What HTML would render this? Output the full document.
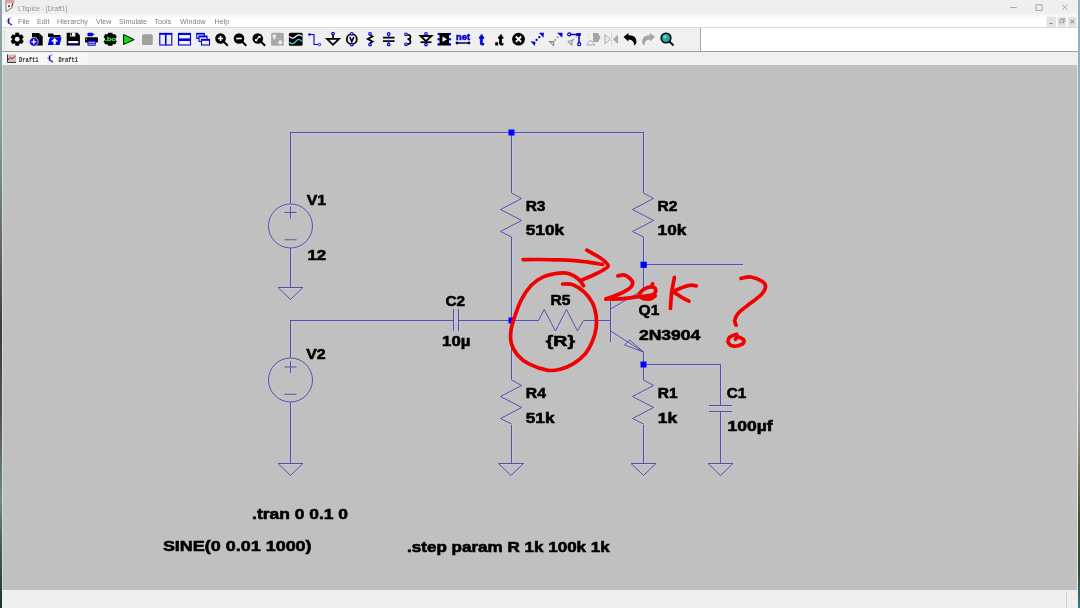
<!DOCTYPE html>
<html><head><meta charset="utf-8">
<style>
html,body{margin:0;padding:0;width:1080px;height:608px;overflow:hidden;background:#c0c0c0;}
body{position:relative;font-family:"Liberation Sans",sans-serif;}
.abs{position:absolute;}
#title{left:0;top:0;width:1080px;height:14px;background:#efefef;}
#menu{left:0;top:14px;width:1080px;height:14px;background:linear-gradient(#f3f3f3 0,#ffffff 4px,#ffffff 100%);}
#tb{left:0;top:27px;width:1080px;height:25px;background:#ffffff;border-top:1px solid #dadada;box-sizing:border-box;}
#tbgray{left:2px;top:28px;width:698px;height:23px;background:#f0f0f0;}
#tbsep{left:700px;top:28px;width:1px;height:23px;background:#a8a8a8;}
#tbbot{left:0;top:51px;width:1080px;height:1px;background:#9c9c9c;}
#tbbot2{left:0;top:52px;width:1080px;height:1px;background:#d0d0d0;}
#tabs{left:0;top:52px;width:1080px;height:13px;background:#f0f0f0;}
#canvas{left:0;top:65px;width:1080px;height:525px;background:#c0c0c0;}
#status{left:0;top:590px;width:1080px;height:18px;background:#efefef;}
#lb{left:0;top:0;width:2px;height:608px;background:linear-gradient(#8aa4a8 0,#86a2a4 120px,#5a6060 260px,#3a3c3c 330px,#505656 420px,#6e8a84 500px,#4a5e5a 540px,#1e3232 608px);}
#lb2{left:2px;top:65px;width:1px;height:525px;background:#d6d8d8;}
#rb{left:1078px;top:0;width:2px;height:608px;background:linear-gradient(#90b4bc 0,#88aeb6 300px,#a0a8a8 370px,#9a9a9a 420px,#7a7058 470px,#3e5030 520px,#2e4a2e 570px,#3a7a80 608px);}
#rb2{left:1077px;top:65px;width:1px;height:525px;background:#e4e6e6;}
.menut{font-size:7px;color:#7a7a7a;top:17px;}
svg{position:absolute;left:0;top:0;will-change:transform;}
</style></head>
<body>
<div id="title" class="abs"></div>
<div id="menu" class="abs"></div>
<div id="tb" class="abs"></div>
<div id="tbgray" class="abs"></div>
<div id="tbsep" class="abs"></div>
<div id="tbbot" class="abs"></div><div id="tbbot2" class="abs"></div>
<div id="tabs" class="abs"></div>
<div id="canvas" class="abs"></div>
<div id="status" class="abs"></div>
<div class="abs" style="left:1066px;top:592px;width:1px;height:16px;background:#d4d4d4"></div>

<svg width="1080" height="608" viewBox="0 0 1080 608">
<!-- title bar -->
<text x="18" y="10.5" font-family="Liberation Sans" font-size="6.6" fill="#969696">LTspice - [Draft1]</text>
<g>
  <path d="M6,0 L14.5,0 L14.3,4 L12.8,7.2 L6,11.6 Z" fill="#fafafa"/>
  <rect x="7" y="0" width="7.5" height="3.4" fill="#d9a3a3"/>
  <path d="M6,0 L6,11.6 L12.8,7" fill="none" stroke="#707070" stroke-width="1"/>
  <path d="M8,6.3 L10,6.3 M9,5 L9,7.3" stroke="#8a1515" stroke-width="1.1"/>
  <path d="M12.9,3.5 L11.8,6.6" stroke="#6a1020" stroke-width="1.1"/>
</g>
<line x1="1010" y1="7.5" x2="1016.8" y2="7.5" stroke="#8a8a8a" stroke-width="0.7"/>
<rect x="1036" y="4.8" width="6" height="5.6" fill="none" stroke="#8a8a8a" stroke-width="0.7"/>
<path d="M1062,4.6 L1067.5,10 M1067.5,4.6 L1062,10" stroke="#8a8a8a" stroke-width="0.7"/>
<!-- MDI buttons -->
<rect x="1046.5" y="16.8" width="9.5" height="10" fill="#e2e2e2"/>
<rect x="1057.5" y="16.8" width="9" height="10" fill="#e2e2e2"/>
<rect x="1068" y="16.8" width="8.5" height="10" fill="#e2e2e2"/>
<line x1="1049.5" y1="23.5" x2="1052.5" y2="23.5" stroke="#777" stroke-width="0.9"/>
<rect x="1060" y="19.8" width="3.5" height="3" fill="none" stroke="#888" stroke-width="0.7"/>
<path d="M1061.2,19.8 L1061.2,18.8 L1064.8,18.8 L1064.8,21.8 L1063.5,21.8" fill="none" stroke="#888" stroke-width="0.6"/>
<path d="M1070.5,19.8 L1074,23.3 M1074,19.8 L1070.5,23.3" stroke="#777" stroke-width="1"/>

<!-- menu -->
<path d="M8.6,18.4 L8.6,23.7" stroke="#1010b0" stroke-width="1.5"/>
<path d="M6.3,21.2 L8,21.2" stroke="#7070e0" stroke-width="1"/>
<path d="M9,19 L11.6,17.4" stroke="#8080d8" stroke-width="1"/>
<path d="M9.3,23.2 L12,25.2" stroke="#2020c0" stroke-width="1.4"/>
<g font-family="Liberation Sans" font-size="7.2" fill="#7d7d7d">
<text x="18" y="24">File</text>
<text x="37" y="24">Edit</text>
<text x="57" y="24">Hierarchy</text>
<text x="96" y="24">View</text>
<text x="119" y="24">Simulate</text>
<text x="154.5" y="24">Tools</text>
<text x="180" y="24">Window</text>
<text x="214.5" y="24">Help</text>
</g>

<!-- toolbar grip -->
<line x1="4.5" y1="31" x2="4.5" y2="49" stroke="#b8b8b8" stroke-width="0.8" stroke-dasharray="1,1.5"/>

<!-- toolbar icons -->
<g id="icons">
<!-- gear -->
<g transform="translate(17.2,39.2)">
  <path d="M-1.57,-6.31 L1.57,-6.31 L1.84,-4.54 L3.02,-3.86 L4.68,-4.52 L6.25,-1.79 L4.85,-0.68 L4.85,0.68 L6.25,1.79 L4.68,4.52 L3.02,3.86 L1.84,4.54 L1.57,6.31 L-1.57,6.31 L-1.84,4.54 L-3.02,3.86 L-4.68,4.52 L-6.25,1.79 L-4.85,0.68 L-4.85,-0.68 L-6.25,-1.79 L-4.68,-4.52 L-3.02,-3.86 L-1.84,-4.54 Z" fill="#000" stroke="#000" stroke-width="0.6" stroke-linejoin="round"/>
  <circle r="2.4" fill="#f0f0f0"/>
</g>
<!-- new doc -->
<path d="M32,33 L39,33 L42.7,36.5 L42.7,45.6 L32,45.6 Z" fill="#000"/>
<path d="M39.2,33 L39.2,36.3 L42.7,36.3" fill="none" stroke="#505050" stroke-width="0.5"/>
<circle cx="33.8" cy="41.8" r="4.4" fill="#0000e0" stroke="#f0f0f0" stroke-width="0.8"/>
<path d="M31.3,41.8 L36.3,41.8 M33.8,39.3 L33.8,44.3" stroke="#fff" stroke-width="1.3"/>
<!-- open folder -->
<path d="M48,33.5 L53,33.5 L54,35 L60.5,35 L60.5,37 L48,37 Z" fill="#000"/>
<path d="M49.8,37.2 L61.6,37.2 L59.6,45 L47.8,45 Z" fill="#0000e8"/>
<path d="M54.6,38 L51,41.6 L53.5,41.6 L53.5,44.6 L55.7,44.6 L55.7,41.6 L58.2,41.6 Z" fill="#fff"/>
<!-- save -->
<path d="M66.7,32.8 L77.5,32.8 L79.9,35.2 L79.9,45.6 L66.7,45.6 Z" fill="#000"/>
<rect x="70" y="32.6" width="5.3" height="3.9" fill="#f4f4f4"/><rect x="70.6" y="33" width="1.3" height="2.6" fill="#000"/>
<rect x="68.3" y="41" width="10" height="2.4" fill="#fff"/>
<rect x="68.3" y="43.4" width="10" height="1" fill="#0000e0"/>
<!-- printer -->
<rect x="87.5" y="32.7" width="5.6" height="3.6" rx="0.8" fill="#0000e8"/>
<path d="M93.3,33.3 L95,34.8 L93.3,34.8 Z" fill="#000040"/>
<rect x="85" y="37.2" width="13" height="5.4" rx="1" fill="#000"/>
<rect x="86.1" y="38.5" width="0.8" height="1.2" fill="#fff"/>
<rect x="87.5" y="40.2" width="8.2" height="5.5" fill="#0000d0"/>
<path d="M88.3,42.3 L95,42.3 M88.3,44.2 L95,44.2" stroke="#fff" stroke-width="0.8"/>
<!-- .bc gear -->
<g transform="translate(110.2,39.2)">
  <path d="M-2,-6.5 L2,-6.5 L2.8,-4.8 L4.8,-5.2 L6.6,-2.2 L5.3,-0.6 L5.3,0.6 L6.6,2.2 L4.8,5.2 L2.8,4.8 L2,6.5 L-2,6.5 L-2.8,4.8 L-4.8,5.2 L-6.6,2.2 L-5.3,0.6 L-5.3,-0.6 L-6.6,-2.2 L-4.8,-5.2 L-2.8,-4.8 Z" fill="#000"/>
  <text x="0" y="1.9" font-family="Liberation Sans" font-weight="bold" font-size="6.2" fill="#22e622" stroke="#22e622" stroke-width="0.3" text-anchor="middle" textLength="11.5" lengthAdjust="spacingAndGlyphs">.bc</text>
</g>
<!-- play -->
<path d="M123.6,34.5 L134.2,39.6 L123.6,44.5 Z" fill="#10dd10" stroke="#000" stroke-width="1"/>
<!-- stop -->
<rect x="142" y="34.2" width="10.8" height="10.7" rx="1.5" fill="#a0a0a0"/>
<!-- tile vertical -->
<g fill="none" stroke="#0000e0" stroke-width="1.1">
<rect x="159.8" y="33.4" width="5.7" height="11.6"/>
<rect x="166" y="33.4" width="5.8" height="11.6"/>
</g>
<rect x="159.5" y="33" width="12.6" height="1.8" fill="#0000e0"/>
<!-- tile horizontal -->
<g fill="none" stroke="#0000e0" stroke-width="1.1">
<rect x="178.5" y="33.4" width="12" height="5.6"/>
<rect x="178.5" y="39.4" width="12" height="5.6"/>
</g>
<rect x="178.2" y="33" width="12.6" height="2" fill="#0000e0"/>
<rect x="178.2" y="39" width="12.6" height="2" fill="#0000e0"/>
<!-- cascade -->
<g fill="#f0f0f0" stroke="#0000e0" stroke-width="1.1">
<rect x="196.8" y="33.4" width="7.5" height="5"/>
<rect x="199" y="36.2" width="8" height="5.2"/>
<rect x="201.5" y="39.4" width="8" height="5.6"/>
</g>
<rect x="196.5" y="33" width="8" height="1.6" fill="#0000e0"/>
<rect x="198.7" y="35.8" width="8.5" height="1.6" fill="#0000e0"/>
<rect x="201.2" y="39" width="8.5" height="1.8" fill="#0000e0"/>
<!-- zoom in -->
<g transform="translate(220.5,38.5)">
<circle r="5.3" fill="#000"/>
<line x1="3" y1="3" x2="7.3" y2="7.3" stroke="#000" stroke-width="2"/>
<path d="M-2.6,0 L2.6,0 M0,-2.6 L0,2.6" stroke="#fff" stroke-width="1.6"/>
</g>
<!-- zoom out -->
<g transform="translate(239,38.5)">
<circle r="5.3" fill="#000"/>
<line x1="3" y1="3" x2="7.3" y2="7.3" stroke="#000" stroke-width="2"/>
<path d="M-2.8,0 L2.8,0" stroke="#fff" stroke-width="1.6"/>
</g>
<!-- zoom fit -->
<g transform="translate(257.8,38.5)">
<circle r="5.3" fill="#000"/>
<line x1="3" y1="3" x2="7.3" y2="7.3" stroke="#000" stroke-width="2"/>
<path d="M-2.2,2.2 L2.2,-2.2" stroke="#fff" stroke-width="1.2"/>
<path d="M2.8,-2.8 L0,-2.6 L2.6,0 Z M-2.8,2.8 L0,2.6 L-2.6,0 Z" fill="#fff"/>
</g>
<!-- pan gray -->
<rect x="271.1" y="32.7" width="12.7" height="13" rx="1.5" fill="#a8a8a8"/>
<path d="M274.3,34.1 L271.9,36.6 L273.3,36.6 L273.3,39.2 L275.3,39.2 L275.3,36.6 L276.9,36.6 Z" fill="#f2f2f2"/>
<path d="M280.2,44.7 L283,42 L281.4,42 L281.4,40.2 L279.2,40.2 L279.2,42 L277.3,42 Z" fill="#f2f2f2"/>
<!-- waveform -->
<rect x="288.9" y="32.7" width="13.7" height="13" rx="1.5" fill="#000"/>
<path d="M289.2,36.3 C290.5,37.8 292,38.6 293.5,38 C295.5,37 297,34.6 299,34.8 C300.5,35 301.5,35.8 302.3,36.3" fill="none" stroke="#fff" stroke-width="1.2"/>
<path d="M289.2,42 C290.5,43.5 292,44 293.5,43.4 C295.5,42.4 297,39.4 298.6,39.3 C300.2,39.3 301.4,40.8 302.3,41.6" fill="none" stroke="#30d8c8" stroke-width="1.2"/>
<!-- wire -->
<path d="M309.5,34.5 L314,34.5 L314,44.5 L318.5,44.5" fill="none" stroke="#0000d8" stroke-width="1.1"/>
<circle cx="309.5" cy="34.5" r="1.3" fill="#0000d8"/>
<circle cx="319.5" cy="44.5" r="1.2" fill="#fff" stroke="#0000d8" stroke-width="0.9"/>
<!-- ground -->
<circle cx="333" cy="33.6" r="1.3" fill="#fff" stroke="#0000d8" stroke-width="1.2"/>
<line x1="333" y1="34.6" x2="333" y2="38.5" stroke="#000" stroke-width="1.6"/>
<path d="M327,38.8 L339,38.8 L333,44.8 Z" fill="none" stroke="#000" stroke-width="1.8"/>
<!-- voltage source -->
<circle cx="351.8" cy="39.2" r="5" fill="none" stroke="#000" stroke-width="1.8"/>
<path d="M349.8,37 L351.8,41.5 L353.8,37" fill="none" stroke="#000" stroke-width="1.6"/>
<circle cx="351.8" cy="33.8" r="1.3" fill="#fff" stroke="#0000d8" stroke-width="1.2"/>
<circle cx="351.8" cy="44.6" r="1.3" fill="#fff" stroke="#0000d8" stroke-width="1.2"/>
<!-- resistor -->
<path d="M370,35 L372.5,36.5 L367.8,39 L372.5,41.5 L370,43" fill="none" stroke="#000" stroke-width="1.8"/>
<circle cx="370" cy="33.8" r="1.3" fill="#fff" stroke="#0000d8" stroke-width="1.2"/>
<circle cx="370" cy="44.6" r="1.3" fill="#fff" stroke="#0000d8" stroke-width="1.2"/>
<!-- capacitor -->
<path d="M383,37.7 L394.5,37.7 M383,41.2 L394.5,41.2" stroke="#000" stroke-width="1.8"/>
<path d="M388.7,34.5 L388.7,37.5 M388.7,41.5 L388.7,44" stroke="#0000d8" stroke-width="0.9"/>
<circle cx="388.7" cy="34" r="1.3" fill="#fff" stroke="#0000d8" stroke-width="1.2"/>
<circle cx="388.7" cy="44.4" r="1.3" fill="#fff" stroke="#0000d8" stroke-width="1.2"/>
<!-- inductor -->
<path d="M406.5,34.5 Q410.5,34.5 410.5,37 Q410.5,39.2 407.5,39.2 Q410.5,39.2 410.5,41.8 Q410.5,44.3 406.5,44.3" fill="none" stroke="#000" stroke-width="1.7"/>
<circle cx="406" cy="34.3" r="1.3" fill="#fff" stroke="#0000d8" stroke-width="1.2"/>
<circle cx="406" cy="44.3" r="1.3" fill="#fff" stroke="#0000d8" stroke-width="1.2"/>
<!-- diode -->
<path d="M420.5,36 L431.5,36 L426,41.2 Z" fill="none" stroke="#000" stroke-width="1.8"/>
<path d="M420.5,42.2 L431.5,42.2" stroke="#000" stroke-width="1.8"/>
<circle cx="426" cy="33.8" r="1.3" fill="#fff" stroke="#0000d8" stroke-width="1.2"/>
<circle cx="426" cy="44.6" r="1.3" fill="#fff" stroke="#0000d8" stroke-width="1.2"/>
<!-- component -->
<rect x="439.5" y="33" width="9.5" height="12.5" fill="#000"/>
<path d="M442.5,36.5 L447,39.2 L442.5,42 Z" fill="#fff"/>
<g fill="#0000d8">
<circle cx="438.8" cy="34" r="1.3"/><circle cx="438.8" cy="39.2" r="1.3"/><circle cx="438.8" cy="44.4" r="1.3"/>
<circle cx="449.8" cy="34" r="1.3"/><circle cx="449.8" cy="39.2" r="1.3"/><circle cx="449.8" cy="44.4" r="1.3"/>
</g>
<!-- net -->
<text x="456" y="40" font-family="Liberation Sans" font-weight="bold" font-size="8.5" fill="#0000d8" stroke="#0000d8" stroke-width="0.5" textLength="14" lengthAdjust="spacingAndGlyphs">net</text>
<path d="M457,43 L469,43" stroke="#000070" stroke-width="1.5"/>
<circle cx="457" cy="43" r="1.4" fill="#000050"/><circle cx="469" cy="43" r="1.4" fill="#000050"/>
<!-- t blue -->
<text x="481.5" y="45" font-family="Liberation Sans" font-weight="bold" font-size="14" fill="#0000e0" stroke="#0000e0" stroke-width="0.9" text-anchor="middle">t</text>
<!-- .t black -->
<text x="499" y="45" font-family="Liberation Sans" font-weight="bold" font-size="14" fill="#000" stroke="#000" stroke-width="0.9" text-anchor="middle">.t</text>
<!-- X circle -->
<circle cx="518.5" cy="39.2" r="6.4" fill="#000"/>
<path d="M515.8,36.5 L521.2,41.9 M521.2,36.5 L515.8,41.9" stroke="#fff" stroke-width="1.8"/>
<!-- move -->
<path d="M538.9,32.8 L543.9,32.8 L543.5,37.8 Z" fill="#0000e0"/>
<path d="M530.3,41.3 L535.4,41.8 L535,45.9 Z" fill="#0000e0"/>
<circle cx="539.3" cy="37.2" r="1.1" fill="#000060"/><circle cx="536.6" cy="39.9" r="1.1" fill="#000060"/>
<!-- drag gray -->
<path d="M557.2,32.8 L562.5,32.8 L562.2,37.8 Z" fill="#0000e0"/>
<path d="M549.5,41.6 L553.8,41.6 L553.6,45.5 Z" fill="none" stroke="#8a8a8a" stroke-width="1.1"/>
<circle cx="557.9" cy="37.2" r="0.9" fill="#8a8a8a"/><circle cx="555.3" cy="39.9" r="0.9" fill="#8a8a8a"/>
<!-- drag wire -->
<path d="M569.2,34.4 L579,34.4 L579,44" fill="none" stroke="#0000c8" stroke-width="1.5"/>
<rect x="576.4" y="33" width="4.4" height="3" fill="#0000c8"/>
<circle cx="569.2" cy="34.4" r="1.5" fill="#fff" stroke="#0000c8" stroke-width="1.3"/>
<circle cx="579.2" cy="44.2" r="1.5" fill="#fff" stroke="#0000c8" stroke-width="1.3"/>
<path d="M568.1,41.4 L572.3,40 L571.8,45 Z" fill="none" stroke="#959595" stroke-width="1.1"/>
<circle cx="573.6" cy="39.6" r="0.8" fill="#959595"/><circle cx="576.2" cy="37" r="0.8" fill="#959595"/>
<!-- rotate gray -->
<path d="M593,33 L598,33 L600.5,37.5 L598,42 L593,42 Z" fill="#a6a6a6"/>
<path d="M586.5,45 L590.5,40 L595,45 Z" fill="none" stroke="#a6a6a6" stroke-width="1"/>
<circle cx="588" cy="37" r="0.6" fill="#a6a6a6"/><circle cx="589" cy="34.5" r="0.6" fill="#a6a6a6"/>
<!-- mirror gray -->
<path d="M605,34.5 L610,39.2 L605,44 Z" fill="none" stroke="#a6a6a6" stroke-width="1"/>
<path d="M618,34.5 L613,39.2 L618,44 Z" fill="#a6a6a6"/>
<line x1="611.5" y1="33" x2="611.5" y2="45.5" stroke="#a6a6a6" stroke-width="0.8" stroke-dasharray="1,1.3"/>
<!-- undo -->
<path d="M623.5,37 L628.5,33 L628.5,35.3 Q636,35 636.5,41.5 Q636.5,44.5 634,45.5 Q634.5,40 628.5,39.5 L628.5,41.5 Z" fill="#000"/>
<!-- redo gray -->
<path d="M655,37 L650,33 L650,35.3 Q642.5,35 642,41.5 Q642,44.5 644.5,45.5 Q644,40 650,39.5 L650,41.5 Z" fill="#a6a6a6"/>
<!-- search -->
<circle cx="666" cy="38" r="4.8" fill="#20a8a8" stroke="#000" stroke-width="1.6"/>
<circle cx="665" cy="36.8" r="1.6" fill="#60e0e0"/>
<line x1="669.5" y1="41.5" x2="673.5" y2="45.5" stroke="#000" stroke-width="1.8"/>
</g>

<!-- tabs -->
<g>
<rect x="3" y="53" width="85" height="11.5" fill="#f7f7f7"/>
<rect x="7" y="54.5" width="9" height="8.5" fill="#c8c0c0"/>
<path d="M7.5,54.5 L7.5,62.5 L16,62.5" fill="none" stroke="#333" stroke-width="1"/>
<path d="M8,60 L10,57.5 L12,59 L15.5,56" fill="none" stroke="#c01818" stroke-width="1"/>
<text x="19" y="62" font-family="Liberation Mono" font-weight="bold" font-size="7" fill="#2a2a2a" textLength="19.5" lengthAdjust="spacingAndGlyphs">Draft1</text>
<path d="M49.6,55.5 L49.6,60.8" stroke="#1010b0" stroke-width="1.5"/>
<path d="M47.3,58.2 L49,58.2" stroke="#5050d8" stroke-width="1"/>
<path d="M50,56 L52.6,54.4" stroke="#7070d8" stroke-width="1"/>
<path d="M50.3,60.3 L53,62.2" stroke="#2020c0" stroke-width="1.4"/>
<text x="58.5" y="62" font-family="Liberation Mono" font-weight="bold" font-size="7" fill="#2a2a2a" textLength="19.5" lengthAdjust="spacingAndGlyphs">Draft1</text>
</g>

<g transform="translate(1,1)">
<!-- halo -->
<g fill="none" stroke="#c2c2ea" stroke-width="1" shape-rendering="crispEdges">
<!-- top wire -->
<path d="M290.5,204 L290.5,132.5 L643.5,132.5 L643.5,193"/>
<path d="M511.5,132.5 L511.5,193"/>
<!-- V1 down to ground -->
<path d="M290.5,248 L290.5,287"/>
<!-- V2 -->
<path d="M290.5,358 L290.5,320.5 L453.5,320.5"/>
<path d="M458.5,320.5 L538.5,320.5"/>
<path d="M290.5,402 L290.5,463"/>
<path d="M583.5,320.5 L610.5,320.5"/>
<!-- R3 bottom/R4 top -->
<path d="M511.5,237 L511.5,380"/>
<path d="M511.5,425 L511.5,463"/>
<!-- R2 down -->
<path d="M643.5,237 L643.5,290"/>
<path d="M643.5,264.5 L742.5,264.5"/>
<!-- emitter down -->
<path d="M643.5,352 L643.5,380"/>
<path d="M643.5,425 L643.5,463"/>
<path d="M643.5,364.5 L720.5,364.5 L720.5,405"/>
<path d="M720.5,411 L720.5,463"/>
<!-- base bar -->
<path d="M610.5,296 L610.5,342"/>
<!-- C2 plates -->
<path d="M453.5,309 L453.5,331 M458.5,309 L458.5,331"/>
<!-- C1 plates -->
<path d="M709,405.5 L732,405.5 M709,411 L732,411"/>
</g>
<g fill="none" stroke="#c2c2ea" stroke-width="1">
<!-- V1 -->
<circle cx="290.5" cy="226" r="22"/>
<path d="M284.5,212.5 L296.5,212.5 M290.5,206.5 L290.5,218.5 M284.5,239.8 L296.5,239.8"/>
<circle cx="290.5" cy="380" r="22"/>
<path d="M284.5,367 L296.5,367 M290.5,361 L290.5,373 M284.5,394.3 L296.5,394.3"/>
<!-- grounds -->
<path d="M278,287.5 L303,287.5 L290.5,299.5 Z"/>
<path d="M278,463.5 L303,463.5 L290.5,475.5 Z"/>
<path d="M498.5,463.5 L523.5,463.5 L511,475.5 Z"/>
<path d="M631,463.5 L656,463.5 L643.5,475.5 Z"/>
<path d="M708,463.5 L733,463.5 L720.5,475.5 Z"/>
<!-- resistors -->
<path d="M511.5,193 L521.7,198.5 L500.5,209.5 L521.7,220.5 L500.5,231.5 L511.5,237"/>
<path d="M643.5,193 L653.7,198.5 L632.5,209.5 L653.7,220.5 L632.5,231.5 L643.5,237"/>
<path d="M511.5,380 L521.7,385.5 L500.5,396.5 L521.7,407.5 L500.5,418.5 L511.5,424"/>
<path d="M643.5,380 L653.7,385.5 L632.5,396.5 L653.7,407.5 L632.5,418.5 L643.5,424"/>
<path d="M538.5,320.5 L544.2,309.5 L555.5,331 L566.5,309.5 L577.5,331 L583.5,320.5"/>
<!-- transistor -->
<path d="M610.5,309 L643.5,290"/>
<path d="M610.5,331 L643.5,352"/>
<path d="M624.5,345 L643.5,352 L629.5,340 Z"/>
</g>
</g>
<!-- schematic -->
<g fill="none" stroke="#54549c" stroke-width="1" shape-rendering="crispEdges">
<!-- top wire -->
<path d="M290.5,204 L290.5,132.5 L643.5,132.5 L643.5,193"/>
<path d="M511.5,132.5 L511.5,193"/>
<!-- V1 down to ground -->
<path d="M290.5,248 L290.5,287"/>
<!-- V2 -->
<path d="M290.5,358 L290.5,320.5 L453.5,320.5"/>
<path d="M458.5,320.5 L538.5,320.5"/>
<path d="M290.5,402 L290.5,463"/>
<path d="M583.5,320.5 L610.5,320.5"/>
<!-- R3 bottom/R4 top -->
<path d="M511.5,237 L511.5,380"/>
<path d="M511.5,425 L511.5,463"/>
<!-- R2 down -->
<path d="M643.5,237 L643.5,290"/>
<path d="M643.5,264.5 L742.5,264.5"/>
<!-- emitter down -->
<path d="M643.5,352 L643.5,380"/>
<path d="M643.5,425 L643.5,463"/>
<path d="M643.5,364.5 L720.5,364.5 L720.5,405"/>
<path d="M720.5,411 L720.5,463"/>
<!-- base bar -->
<path d="M610.5,296 L610.5,342"/>
<!-- C2 plates -->
<path d="M453.5,309 L453.5,331 M458.5,309 L458.5,331"/>
<!-- C1 plates -->
<path d="M709,405.5 L732,405.5 M709,411 L732,411"/>
</g>
<g fill="none" stroke="#54549c" stroke-width="1">
<!-- V1 -->
<circle cx="290.5" cy="226" r="22"/>
<path d="M284.5,212.5 L296.5,212.5 M290.5,206.5 L290.5,218.5 M284.5,239.8 L296.5,239.8"/>
<circle cx="290.5" cy="380" r="22"/>
<path d="M284.5,367 L296.5,367 M290.5,361 L290.5,373 M284.5,394.3 L296.5,394.3"/>
<!-- grounds -->
<path d="M278,287.5 L303,287.5 L290.5,299.5 Z"/>
<path d="M278,463.5 L303,463.5 L290.5,475.5 Z"/>
<path d="M498.5,463.5 L523.5,463.5 L511,475.5 Z"/>
<path d="M631,463.5 L656,463.5 L643.5,475.5 Z"/>
<path d="M708,463.5 L733,463.5 L720.5,475.5 Z"/>
<!-- resistors -->
<path d="M511.5,193 L521.7,198.5 L500.5,209.5 L521.7,220.5 L500.5,231.5 L511.5,237"/>
<path d="M643.5,193 L653.7,198.5 L632.5,209.5 L653.7,220.5 L632.5,231.5 L643.5,237"/>
<path d="M511.5,380 L521.7,385.5 L500.5,396.5 L521.7,407.5 L500.5,418.5 L511.5,424"/>
<path d="M643.5,380 L653.7,385.5 L632.5,396.5 L653.7,407.5 L632.5,418.5 L643.5,424"/>
<path d="M538.5,320.5 L544.2,309.5 L555.5,331 L566.5,309.5 L577.5,331 L583.5,320.5"/>
<!-- transistor -->
<path d="M610.5,309 L643.5,290"/>
<path d="M610.5,331 L643.5,352"/>
<path d="M624.5,345 L643.5,352 L629.5,340 Z"/>
</g>
<!-- junctions -->
<g fill="#0000ff">
<rect x="508.5" y="129.5" width="6" height="6"/>
<rect x="640.5" y="261.7" width="6.3" height="6.2"/>
<rect x="508.5" y="317.5" width="6" height="6"/>
<rect x="640.5" y="361.5" width="6" height="6"/>
</g>

<!-- labels -->
<g font-family="Liberation Sans" font-weight="bold" font-size="15.4" fill="#000" stroke="#000" stroke-width="0.6" lengthAdjust="spacingAndGlyphs">
<text x="306.8" y="204.8" textLength="19.4" lengthAdjust="spacingAndGlyphs">V1</text>
<text x="307.4" y="260.2" textLength="18.8" lengthAdjust="spacingAndGlyphs">12</text>
<text x="306.2" y="359" textLength="19.4" lengthAdjust="spacingAndGlyphs">V2</text>
<text x="525.7" y="210.5" textLength="19.8" lengthAdjust="spacingAndGlyphs">R3</text>
<text x="525.7" y="234.7" textLength="38.5" lengthAdjust="spacingAndGlyphs">510k</text>
<text x="657.6" y="210.5" textLength="19.8" lengthAdjust="spacingAndGlyphs">R2</text>
<text x="657.6" y="234.7" textLength="28.7" lengthAdjust="spacingAndGlyphs">10k</text>
<text x="445.5" y="305.7" textLength="19.6" lengthAdjust="spacingAndGlyphs">C2</text>
<text x="442.1" y="346" textLength="28.2" lengthAdjust="spacingAndGlyphs">10µ</text>
<text x="550.5" y="305.3" textLength="19.9" lengthAdjust="spacingAndGlyphs">R5</text>
<text x="545.7" y="346.4" textLength="29.3" lengthAdjust="spacingAndGlyphs">{R}</text>
<text x="638.6" y="314.9" textLength="20.8" lengthAdjust="spacingAndGlyphs">Q1</text>
<text x="638.9" y="339.8" textLength="61.5" lengthAdjust="spacingAndGlyphs">2N3904</text>
<text x="525.8" y="397.9" textLength="20.1" lengthAdjust="spacingAndGlyphs">R4</text>
<text x="525.8" y="422.6" textLength="28.7" lengthAdjust="spacingAndGlyphs">51k</text>
<text x="657.8" y="397.8" textLength="19.8" lengthAdjust="spacingAndGlyphs">R1</text>
<text x="657.8" y="422.7" textLength="19.3" lengthAdjust="spacingAndGlyphs">1k</text>
<text x="726.7" y="397.8" textLength="19.6" lengthAdjust="spacingAndGlyphs">C1</text>
<text x="727.5" y="430.6" textLength="45.2" lengthAdjust="spacingAndGlyphs">100µf</text>
<text x="252.1" y="519.35" textLength="95.9" lengthAdjust="spacingAndGlyphs">.tran 0 0.1 0</text>
<text x="162.9" y="550.6" textLength="148.7" lengthAdjust="spacingAndGlyphs">SINE(0 0.01 1000)</text>
<text x="407.1" y="552.4" textLength="202.7" lengthAdjust="spacingAndGlyphs">.step param R 1k 100k 1k</text>
</g>

<!-- red annotations -->
<g fill="none" stroke="#f00000" stroke-width="3.7" stroke-linecap="round" stroke-linejoin="round">
<path d="M523.1,259.6 C525.9,259.6 534.6,259.4 540.0,259.5 C545.4,259.6 550.4,259.8 555.7,259.9 C561.0,260.0 566.9,260.0 572.0,260.3 C577.1,260.6 581.2,261.2 586.3,261.9 C591.4,262.6 599.9,264.0 602.6,264.4"/>
<path d="M586.8,250.2 C588.8,251.3 595.5,254.9 598.5,256.8 C601.5,258.7 603.4,260.0 605.0,261.5 C606.6,263.0 608.4,264.7 608.2,266.0 C608.0,267.3 605.6,268.4 604.0,269.5 C602.4,270.6 601.0,271.4 598.5,272.6 C596.0,273.9 592.0,275.6 589.0,277.0 C586.0,278.4 581.7,280.1 580.2,280.7"/>
<path d="M562.7,284.0 C564.5,284.1 569.9,283.5 573.5,284.9 C577.1,286.2 581.2,289.1 584.4,292.1 C587.6,295.1 590.5,299.1 592.5,303.0 C594.5,306.9 595.5,311.5 596.1,315.7 C596.7,319.9 596.7,324.1 596.1,328.3 C595.5,332.5 594.3,336.8 592.5,341.0 C590.7,345.2 588.5,349.9 585.3,353.7 C582.1,357.5 577.6,361.1 573.5,363.6 C569.4,366.2 565.1,367.9 560.9,369.0 C556.6,370.1 553.2,371.1 548.0,370.3 C542.8,369.5 534.5,366.8 529.4,364.2 C524.3,361.6 520.3,358.3 517.3,354.7 C514.3,351.1 512.2,346.9 511.2,342.6 C510.2,338.3 510.5,333.6 511.2,329.0 C511.9,324.4 513.6,319.9 515.3,315.0 C517.0,310.1 518.7,304.7 521.3,299.8 C523.9,294.9 527.5,289.4 531.1,285.6 C534.8,281.8 538.6,279.0 543.2,276.9 C547.9,274.8 554.5,273.6 559.0,273.1 C563.5,272.6 566.6,272.9 569.9,274.0 C573.2,275.1 576.7,277.5 579.0,279.5 C581.3,281.5 582.8,284.8 583.5,285.8"/>
<path d="M617.8,275.9 C619.0,275.8 622.6,274.3 625.0,275.2 C627.4,276.1 631.2,279.2 632.2,281.2 C633.2,283.2 632.6,285.1 630.9,287.1 C629.1,289.1 625.9,291.0 621.7,293.0 C617.5,295.0 608.5,298.0 605.9,299.0"/>
<path d="M605.9,299.0 C608.2,299.0 614.6,299.2 619.7,298.9 C624.9,298.5 632.4,297.4 636.8,296.9 C641.2,296.4 643.2,296.4 646.0,296.0 C648.8,295.6 651.9,295.2 653.5,294.2 C655.1,293.2 655.9,291.4 655.8,290.2 C655.7,289.0 654.5,287.4 653.0,287.0 C651.5,286.6 648.9,287.1 647.0,287.8 C645.1,288.5 642.8,290.0 641.5,291.2 C640.2,292.4 639.2,294.0 639.5,295.2 C639.8,296.4 641.1,297.9 643.0,298.5 C644.9,299.1 649.0,299.1 651.0,298.6 C653.0,298.2 654.6,296.3 655.3,295.8"/>
<path d="M652.6,283.8 C652.5,284.2 651.9,286.1 651.8,286.5"/>
<path d="M674.4,277.4 C674.2,278.6 673.5,282.1 673.0,284.8 C672.5,287.5 671.9,289.8 671.5,293.7 C671.1,297.6 670.6,306.0 670.4,308.5"/>
<path d="M696.3,285.9 C695.4,285.8 693.5,284.9 691.1,285.2 C688.8,285.4 684.8,286.5 682.2,287.4 C679.6,288.3 677.0,289.6 675.6,290.4 C674.2,291.2 673.5,291.4 674.0,292.2 C674.5,293.0 676.8,294.1 678.5,295.2 C680.2,296.3 682.7,297.9 684.4,298.9 C686.1,299.9 688.1,300.7 688.9,301.1"/>
<path d="M741.0,278.4 C742.6,278.2 747.3,276.5 750.8,277.0 C754.3,277.5 759.5,279.6 762.0,281.2 C764.5,282.8 765.7,284.5 765.5,286.8 C765.3,289.1 763.5,292.2 760.6,295.2 C757.7,298.2 751.7,302.0 748.0,305.0 C744.3,308.0 740.4,310.8 738.2,313.4 C736.0,315.9 735.1,318.3 734.7,320.3 C734.4,322.3 735.9,324.4 736.1,325.2"/>
<path d="M736.8,334.3 C735.6,334.8 731.2,335.7 729.8,337.1 C728.4,338.5 727.7,341.2 728.4,342.7 C729.1,344.2 731.7,346.0 734.0,346.2 C736.3,346.4 740.8,345.2 742.4,344.1 C744.0,343.1 744.5,341.1 743.8,339.9 C743.1,338.7 739.6,337.2 738.2,337.1 C736.8,337.0 735.9,338.9 735.4,339.2"/>
</g>





</svg>
<div id="lb" class="abs"></div>
<div id="rb" class="abs"></div><div id="rb2" class="abs"></div><div id="lb2" class="abs"></div>
</body></html>
